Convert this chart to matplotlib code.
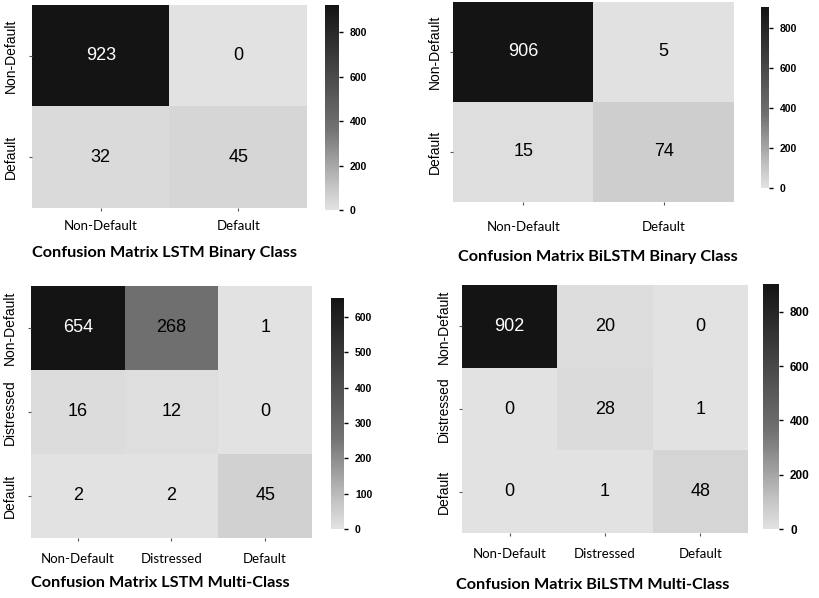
import matplotlib
matplotlib.use("Agg")
import matplotlib.pyplot as plt
import numpy as np
from matplotlib.colors import LinearSegmentedColormap

# confusion matrices
binary_labels = ["Non-Default", "Default"]
multi_labels = ["Non-Default", "Distressed", "Default"]

lstm_binary = [[923, 0],
               [32, 45]]
bilstm_binary = [[906, 5],
                 [15, 74]]
lstm_multi = [[654, 268, 1],
              [16, 12, 0],
              [2, 2, 45]]
bilstm_multi = [[902, 20, 0],
                [0, 28, 1],
                [0, 1, 48]]

titles = [
    "Confusion Matrix LSTM Binary Class",
    "Confusion Matrix BiLSTM Binary Class",
    "Confusion Matrix LSTM Multi-Class",
    "Confusion Matrix BiLSTM Multi-Class",
]
cbar_ticks = [
    [0, 200, 400, 600, 800],
    [0, 200, 400, 600, 800],
    [0, 100, 200, 300, 400, 500, 600],
    [0, 200, 400, 600, 800],
]

cmap = LinearSegmentedColormap.from_list(
    "grey_cm",
    [(0.0, "#e2e2e2"), (0.1, "#c9c9c9"), (0.4, "#717171"), (1.0, "#141414")],
)

NARROW = ["Lato", "DejaVu Sans"]
ARIAL = ["Liberation Sans", "DejaVu Sans"]

W, H = 820, 598


def px_axes(fig, x0, y0, x1, y1):
    """Add axes from pixel box (top-left origin)."""
    return fig.add_axes([x0 / W, 1 - y1 / H, (x1 - x0) / W, (y1 - y0) / H])


def draw_cm(fig, matrix, labels, hm_box, cb_box, ticks, title, title_xy,
            xpad, ypad, cb_size=7.5):
    m = np.array(matrix)
    vmax = m.max()
    ax = px_axes(fig, *hm_box)
    im = ax.imshow(m, cmap=cmap, vmin=0, vmax=vmax, aspect="auto")
    n = len(labels)
    for i in range(n):
        for j in range(n):
            v = m[i, j]
            ax.text(j, i, str(v), ha="center", va="center",
                    fontsize=13, family=ARIAL,
                    color="white" if v > vmax * 0.5 else "black")
    ax.set_xticks(range(n))
    ax.set_yticks(range(n))
    ax.set_xticklabels(labels, family=NARROW, fontsize=9.5)
    ax.set_yticklabels(labels, family=ARIAL, fontsize=10, rotation=90, va="center")
    ax.tick_params(axis="x", length=2, pad=xpad, color="#555555")
    ax.tick_params(axis="y", length=2, pad=ypad, color="#555555")
    for s in ax.spines.values():
        s.set_visible(False)

    cax = px_axes(fig, *cb_box)
    cb = fig.colorbar(im, cax=cax)
    cb.set_ticks(ticks)
    cb.outline.set_visible(False)
    cax.tick_params(length=3, width=1, pad=5, labelsize=cb_size)
    for t in cax.get_yticklabels():
        t.set_fontweight("bold")
        t.set_family(ARIAL)

    fig.text(title_xy[0] / W, 1 - title_xy[1] / H, title, ha="center", va="center",
             fontsize=11.7, fontweight="bold", family=NARROW)


fig = plt.figure(figsize=(8.2, 5.98), dpi=100)

draw_cm(fig, lstm_binary, binary_labels, (32, 5, 307, 208), (325, 5, 339, 210),
        cbar_ticks[0], titles[0], (165, 253), 7, 8)
draw_cm(fig, bilstm_binary, binary_labels, (453, 2, 734, 202), (761, 7, 769, 188),
        cbar_ticks[1], titles[1], (598, 257), 12, 6)
draw_cm(fig, lstm_multi, multi_labels, (31, 286, 312, 538), (331, 298, 344, 529),
        cbar_ticks[2], titles[2], (160, 583), 9, 8)
draw_cm(fig, bilstm_multi, multi_labels, (462, 285, 748, 533), (763, 284, 779, 529),
        cbar_ticks[3], titles[3], (593, 585), 9, 6, cb_size=8.5)

fig.savefig("out.png", dpi=100, facecolor="white")
